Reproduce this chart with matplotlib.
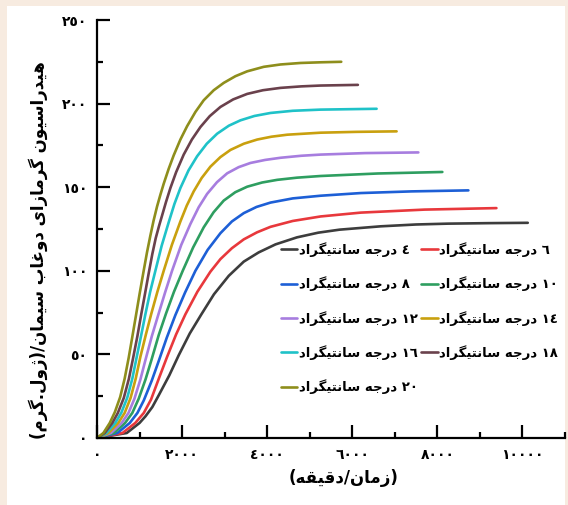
import re
import matplotlib
matplotlib.use("Agg")
import matplotlib.pyplot as plt
from matplotlib.ticker import MultipleLocator, FuncFormatter
from matplotlib.patches import Rectangle

# ---------------- data ----------------
temps = [4, 6, 8, 10, 12, 14, 16, 18, 20]

time_4 = [0, 700, 1000, 1140, 1300, 1450, 1700, 1921, 2180, 2454, 2750, 3097, 3450, 3800,
          4196, 4700, 5200, 5700, 6666, 7500, 8243, 9200, 10125]
heat_4 = [0, 3, 9, 13, 18.5, 25.5, 37.5, 49.5, 62.5, 74, 86, 97, 105.5, 111,
          115.8, 120, 122.8, 124.6, 126.6, 127.7, 128.2, 128.5, 128.7]

time_6 = [0, 600, 900, 1100, 1270, 1460, 1647, 1860, 2078, 2360, 2666, 2901, 3170, 3450,
          3760, 4078, 4600, 5254, 6200, 7700, 9388]
heat_6 = [0, 3, 9, 15, 23, 36, 48.5, 62, 74, 87.5, 99.5, 107, 113.5, 118.8,
          123, 126.3, 129.8, 132.5, 134.8, 136.6, 137.5]

time_8 = [0, 480, 770, 950, 1100, 1290, 1450, 1640, 1842, 2070, 2313, 2600, 2901, 3170,
          3450, 3750, 4078, 4600, 5254, 6200, 7400, 8729]
heat_8 = [0, 3, 9, 15, 22.5, 34.5, 46, 60, 73.5, 87, 100, 112.5, 122.5, 129.5,
          134.5, 138.2, 140.8, 143.3, 144.9, 146.5, 147.5, 148.1]

time_10 = [0, 400, 660, 830, 980, 1140, 1278, 1450, 1623, 1810, 2015, 2260, 2508, 2740,
           2979, 3250, 3530, 3880, 4236, 4700, 5254, 6600, 8117]
heat_10 = [0, 3, 9, 15, 23.5, 35, 46.5, 61.5, 74.5, 87.5, 100, 114, 126, 135,
           142, 147, 150.3, 152.8, 154.4, 155.7, 156.7, 158.2, 159.1]

time_12 = [0, 330, 580, 740, 880, 1020, 1137, 1290, 1450, 1600, 1764, 1980, 2195, 2390,
           2588, 2820, 3059, 3330, 3607, 3950, 4313, 4800, 5254, 6300, 7553]
heat_12 = [0, 3, 9, 15, 23.5, 35, 46.5, 61, 74.5, 87, 100, 115.5, 128, 138,
           146, 153, 158.3, 162, 164.5, 166.3, 167.6, 168.8, 169.5, 170.4, 170.8]

time_14 = [0, 270, 500, 650, 790, 910, 1019, 1150, 1278, 1420, 1568, 1760, 1960, 2110,
           2273, 2460, 2666, 2900, 3137, 3450, 3765, 4100, 4471, 5254, 6100, 7042]
heat_14 = [0, 3, 9, 15, 24, 35.5, 48.5, 62, 74.5, 87.5, 100, 115.5, 129.5, 139,
           147.5, 155.5, 162.3, 168, 172.3, 176, 178.5, 180.2, 181.4, 182.6, 183.1, 183.4]

time_16 = [0, 220, 430, 570, 710, 830, 930, 1035, 1137, 1250, 1372, 1520, 1685, 1820,
           1960, 2150, 2353, 2580, 2824, 3100, 3372, 3700, 4078, 4600, 5254, 6572]
heat_16 = [0, 3, 9, 15, 24, 35.5, 48, 61, 74, 87.5, 100, 115, 129, 140,
           149.5, 160, 168.5, 176, 182, 186.8, 190, 192.6, 194.4, 195.7, 196.4, 196.9]

time_18 = [0, 180, 360, 490, 630, 750, 850, 950, 1040, 1130, 1215, 1300, 1380, 1460,
           1529, 1620, 1725, 1860, 2038, 2230, 2431, 2650, 2901, 3200, 3530, 3900,
           4313, 4800, 5254, 6132]
heat_18 = [0, 3, 9, 15, 24, 35.5, 48, 61, 74, 86.5, 98.5, 110, 119.5, 127,
           133, 141, 149.5, 159, 169.5, 178.5, 186, 192.5, 198, 202.5, 205.8, 208,
           209.4, 210.3, 210.8, 211.2]

time_20 = [0, 150, 300, 420, 545, 650, 745, 830, 917, 1000, 1097, 1175, 1254, 1330,
           1412, 1490, 1567, 1685, 1802, 1960, 2118, 2313, 2508, 2744, 2979, 3254,
           3530, 3920, 4313, 4784, 5254, 5741]
heat_20 = [0, 3, 9, 15.5, 24.5, 35.5, 48, 60.5, 73.5, 86, 100, 111, 121, 130,
           138.5, 145.5, 152, 161, 169, 178.5, 186.5, 195, 202, 208, 212.4, 216.4,
           219.3, 222, 223.4, 224.3, 224.7, 225]

series_times = [time_4, time_6, time_8, time_10, time_12, time_14, time_16, time_18, time_20]
series_heats = [heat_4, heat_6, heat_8, heat_10, heat_12, heat_14, heat_16, heat_18, heat_20]
colors = ["#3d3d3d", "#e8383c", "#1d5fd6", "#2e9e60", "#a77ddf",
          "#c9a00e", "#1fc2c8", "#6a414c", "#8e8e1c"]

x_ticks = [0, 2000, 4000, 6000, 8000, 10000]
y_ticks = [0, 50, 100, 150, 200, 250]
x_label = "(زمان/دقیقه)"
y_label = "هیدراسیون گرمازای دوغاب سیمان/(ژول.گرم)"
legend_suffix = " درجه سانتیگراد"

# ---------------- minimal Arabic-script shaping + bidi ----------------
FORMS = {
    'ا': ('\uFE8D', '\uFE8E', None, None),
    'ب': ('\uFE8F', '\uFE90', '\uFE91', '\uFE92'),
    'ت': ('\uFE95', '\uFE96', '\uFE97', '\uFE98'),
    'ج': ('\uFE9D', '\uFE9E', '\uFE9F', '\uFEA0'),
    'د': ('\uFEA9', '\uFEAA', None, None),
    'ر': ('\uFEAD', '\uFEAE', None, None),
    'ز': ('\uFEAF', '\uFEB0', None, None),
    'ژ': ('\uFB8A', '\uFB8B', None, None),
    'س': ('\uFEB1', '\uFEB2', '\uFEB3', '\uFEB4'),
    'غ': ('\uFECD', '\uFECE', '\uFECF', '\uFED0'),
    'ق': ('\uFED5', '\uFED6', '\uFED7', '\uFED8'),
    'گ': ('\uFB92', '\uFB93', '\uFB94', '\uFB95'),
    'ل': ('\uFEDD', '\uFEDE', '\uFEDF', '\uFEE0'),
    'م': ('\uFEE1', '\uFEE2', '\uFEE3', '\uFEE4'),
    'ن': ('\uFEE5', '\uFEE6', '\uFEE7', '\uFEE8'),
    'ه': ('\uFEE9', '\uFEEA', '\uFEEB', '\uFEEC'),
    'و': ('\uFEED', '\uFEEE', None, None),
    'ی': ('\uFBFC', '\uFBFD', '\uFBFE', '\uFBFF'),
}
RIGHT_JOIN = set('ادرزژو')
AR_DIGITS = '٠١٢٣٤٥٦٧٨٩'


def to_ar_digits(n):
    return ''.join(AR_DIGITS[int(c)] for c in str(n))


def shape(s):
    out = []
    for i, c in enumerate(s):
        if c not in FORMS:
            out.append(c)
            continue
        prev = s[i - 1] if i > 0 else ''
        nxt = s[i + 1] if i + 1 < len(s) else ''
        jp = prev in FORMS and prev not in RIGHT_JOIN
        jn = nxt in FORMS and c not in RIGHT_JOIN
        iso, fin, ini, med = FORMS[c]
        if jp and jn:
            out.append(med)
        elif jp:
            out.append(fin)
        elif jn:
            out.append(ini)
        else:
            out.append(iso)
    return ''.join(out)


def rtl(s):
    s = shape(s)
    tokens = re.findall('[' + AR_DIGITS + ']+|[^' + AR_DIGITS + ']+', s)
    mirror = {'(': ')', ')': '('}
    res = []
    for t in reversed(tokens):
        if t[0] in AR_DIGITS:
            res.append(t)
        else:
            res.append(''.join(mirror.get(c, c) for c in reversed(t)))
    return ''.join(res)


# ---------------- figure ----------------
plt.rcParams['font.family'] = ['DejaVu Sans']
plt.rcParams['font.weight'] = 'bold'

W, H = 568, 505
fig = plt.figure(figsize=(W / 100, H / 100), dpi=100, facecolor="#f7ebe0")
fig.patches.append(Rectangle((7 / W, 0), (565 - 7) / W, (H - 6) / H,
                             transform=fig.transFigure, facecolor="white",
                             edgecolor="none", zorder=-10))

ax = fig.add_axes([97 / W, (H - 438) / H, (565 - 97) / W, (438 - 20) / H])
ax.set_zorder(2)
ax.set_facecolor("none")

handles = []
for t, xs, ys, c in zip(temps, series_times, series_heats, colors):
    h, = ax.plot(xs, ys, color=c, lw=1.9, solid_capstyle='round',
                 solid_joinstyle='round',
                 label=rtl(to_ar_digits(t) + legend_suffix))
    handles.append(h)

ax.set_xlim(0, 11000)
ax.set_ylim(0, 250)
for s in ['top', 'right']:
    ax.spines[s].set_visible(False)
for s in ['left', 'bottom']:
    ax.spines[s].set_linewidth(1.6)
    ax.spines[s].set_color('black')

ax.set_xticks(x_ticks)
ax.set_yticks(y_ticks)
ax.xaxis.set_minor_locator(MultipleLocator(1000))
ax.yaxis.set_minor_locator(MultipleLocator(25))
fmt = FuncFormatter(lambda v, p: to_ar_digits(int(round(v))))
ax.xaxis.set_major_formatter(fmt)
ax.yaxis.set_major_formatter(fmt)
ax.tick_params(which='major', direction='in', length=9.5, width=1.6,
               labelsize=10, pad=7)
ax.tick_params(which='minor', direction='in', length=4, width=1.6)
for lab in ax.get_xticklabels() + ax.get_yticklabels():
    lab.set_fontweight('bold')

fig.text(38 / W, 1 - 250 / H, rtl(y_label), rotation=90, ha='center',
         va='center', fontsize=12, fontweight='bold')
fig.text(344 / W, 1 - 478 / H, rtl(x_label), ha='center', va='center',
         fontsize=12, fontweight='bold')

# legend: two columns, row-major order 4,6 / 8,10 / ...
order = [0, 2, 4, 6, 8, 1, 3, 5, 7]
leg = fig.legend([handles[i] for i in order],
                 [handles[i].get_label() for i in order],
                 ncol=2, frameon=False, loc='upper left',
                 bbox_to_anchor=(281 / W, 1 - 242 / H),
                 prop={'size': 9.5, 'weight': 'bold'},
                 handlelength=1.25, handletextpad=0.1, columnspacing=0.25,
                 labelspacing=1.48, borderaxespad=0, borderpad=0)
leg.set_zorder(3)

fig.savefig("out.png", dpi=100, facecolor=fig.get_facecolor())
